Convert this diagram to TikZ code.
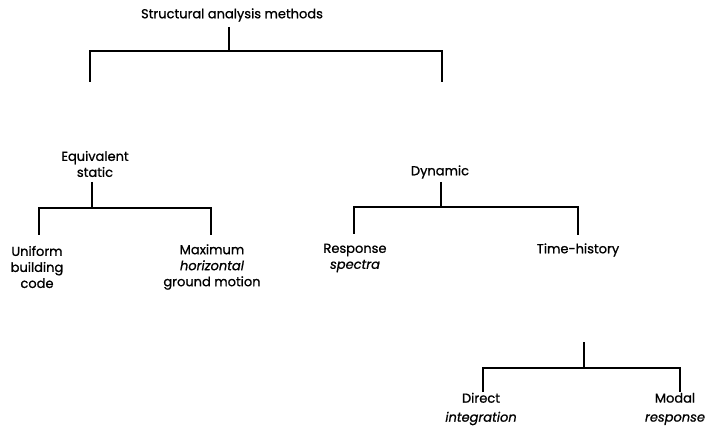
\documentclass[tikz,border=0pt]{standalone}
\usepackage{fontspec}
\setmainfont{Poppins}[FakeBold=0.9]
\begin{document}
\begin{tikzpicture}[x=1pt,y=-1pt,
  lbl/.style={font=\fontsize{13}{16}\selectfont, align=center, inner sep=0pt},
  conn/.style={line width=1.5pt, line join=miter}]
\useasboundingbox (0,0) rectangle (711,427);
% labels
\node[lbl] (root) at (232,15) {Structural analysis methods};
\node[lbl] (eqs) at (95,164) {Equivalent\\static};
\node[lbl] (dyn) at (440,172) {Dynamic};
\node[lbl] (ubc) at (37,267) {Uniform\\building\\code};
\node[lbl] (mhg) at (212,267) {Maximum\\\textit{horizontal}\\ground motion};
\node[lbl] (rsp) at (355,258) {Response\\\textit{spectra}};
\node[lbl] (thi) at (578,250) {Time-history};
\node[lbl] (dir) at (481,409) {Direct\\[3pt]\textit{integration}};
\node[lbl] (mod) at (675,409) {Modal\\[3pt]\textit{response}};
% connector points
\coordinate (r1) at (229,27);  \coordinate (r2) at (229,51);
\coordinate (rl) at (90,51);   \coordinate (rr) at (442,51);
\coordinate (rld) at (90,82);  \coordinate (rrd) at (442,82);
\coordinate (e1) at (92,182);  \coordinate (e2) at (92,208);
\coordinate (el) at (39,208);  \coordinate (er) at (211,208);
\coordinate (eld) at (39,235); \coordinate (erd) at (211,235);
\coordinate (d1) at (441,182); \coordinate (d2) at (441,207);
\coordinate (dl) at (354,207); \coordinate (dr) at (578,207);
\coordinate (dld) at (354,234);\coordinate (drd) at (578,235);
\coordinate (t1) at (584,342); \coordinate (t2) at (584,367);
\coordinate (tl) at (483,368); \coordinate (tr) at (680,368);
\coordinate (tld) at (483,392);\coordinate (trd) at (680,392);
% connectors
\draw[conn] (r1) -- (r2);
\draw[conn] (rld) -- (rl) -- (rr) -- (rrd);
\draw[conn] (e1) -- (e2);
\draw[conn] (eld) -- (el) -- (er) -- (erd);
\draw[conn] (d1) -- (d2);
\draw[conn] (dld) -- (dl) -- (dr) -- (drd);
\draw[conn] (t1) -- (t2);
\draw[conn] (tld) -- (tl) -- (tr) -- (trd);
\end{tikzpicture}
\end{document}
